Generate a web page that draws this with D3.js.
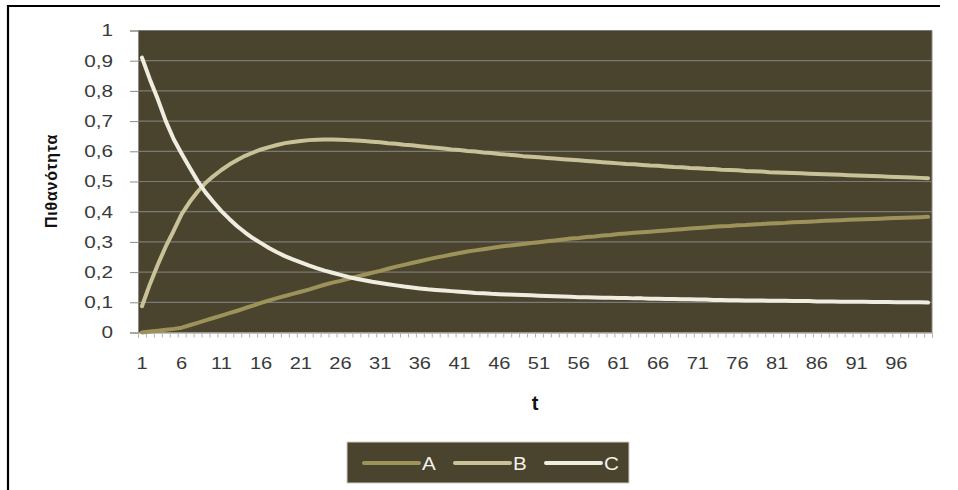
<!DOCTYPE html>
<html>
<head>
<meta charset="utf-8">
<script src="https://cdn.jsdelivr.net/npm/d3@7"></script>
<style>
  html, body { margin: 0; padding: 0; background: #ffffff; }
  svg { display: block; font-family: "Liberation Sans", Arial, sans-serif; }
</style>
</head>
<body>
<svg id="chart" width="958" height="490"></svg>
<script>
// Time steps 1..100
const steps = d3.range(1, 101);

// Probability of each state over time
const seriesA = [
  0.000, 0.003, 0.006, 0.009, 0.012, 0.016, 0.024, 0.032, 0.040, 0.048,
  0.056, 0.064, 0.072, 0.081, 0.089, 0.098, 0.106, 0.114, 0.121, 0.128,
  0.135, 0.142, 0.150, 0.158, 0.165, 0.171, 0.178, 0.185, 0.191, 0.198,
  0.204, 0.211, 0.218, 0.224, 0.230, 0.236, 0.242, 0.248, 0.253, 0.258,
  0.263, 0.268, 0.272, 0.276, 0.280, 0.284, 0.287, 0.290, 0.293, 0.296,
  0.299, 0.302, 0.305, 0.308, 0.311, 0.313, 0.316, 0.318, 0.321, 0.323,
  0.326, 0.328, 0.330, 0.332, 0.334, 0.336, 0.338, 0.340, 0.342, 0.344,
  0.346, 0.348, 0.350, 0.352, 0.353, 0.355, 0.356, 0.358, 0.359, 0.361,
  0.362, 0.363, 0.365, 0.366, 0.367, 0.368, 0.370, 0.371, 0.372, 0.373,
  0.374, 0.375, 0.376, 0.377, 0.378, 0.379, 0.380, 0.381, 0.382, 0.383
];
const seriesB = [
  0.087, 0.160, 0.225, 0.285, 0.337, 0.392, 0.432, 0.466, 0.495, 0.518,
  0.538, 0.556, 0.571, 0.585, 0.596, 0.606, 0.614, 0.621, 0.627, 0.631,
  0.634, 0.637, 0.638, 0.639, 0.639, 0.638, 0.637, 0.636, 0.634, 0.632,
  0.630, 0.627, 0.625, 0.622, 0.620, 0.617, 0.614, 0.612, 0.609, 0.606,
  0.604, 0.601, 0.599, 0.596, 0.594, 0.591, 0.589, 0.587, 0.584, 0.582,
  0.580, 0.578, 0.576, 0.574, 0.572, 0.570, 0.568, 0.566, 0.564, 0.562,
  0.560, 0.558, 0.557, 0.555, 0.553, 0.552, 0.550, 0.548, 0.547, 0.545,
  0.544, 0.542, 0.541, 0.539, 0.538, 0.537, 0.535, 0.534, 0.533, 0.531,
  0.530, 0.529, 0.528, 0.527, 0.526, 0.525, 0.524, 0.523, 0.522, 0.521,
  0.520, 0.519, 0.518, 0.517, 0.516, 0.515, 0.514, 0.513, 0.512, 0.511
];
const seriesC = [
  0.910, 0.838, 0.772, 0.700, 0.640, 0.592, 0.546, 0.502, 0.464, 0.432,
  0.402, 0.376, 0.352, 0.331, 0.312, 0.296, 0.280, 0.266, 0.253, 0.242,
  0.232, 0.222, 0.213, 0.205, 0.198, 0.191, 0.184, 0.178, 0.173, 0.168,
  0.164, 0.160, 0.156, 0.152, 0.149, 0.146, 0.143, 0.141, 0.139, 0.137,
  0.135, 0.133, 0.131, 0.130, 0.128, 0.127, 0.126, 0.125, 0.124, 0.123,
  0.122, 0.121, 0.120, 0.119, 0.118, 0.117, 0.117, 0.116, 0.115, 0.115,
  0.114, 0.114, 0.113, 0.113, 0.112, 0.112, 0.111, 0.111, 0.110, 0.110,
  0.109, 0.109, 0.108, 0.108, 0.107, 0.107, 0.106, 0.106, 0.106, 0.105,
  0.105, 0.105, 0.104, 0.104, 0.104, 0.103, 0.103, 0.103, 0.102, 0.102,
  0.102, 0.102, 0.101, 0.101, 0.101, 0.100, 0.100, 0.100, 0.100, 0.099
];

const seriesNames = ["A", "B", "C"];
const seriesColors = ["#9d9259", "#c9c197", "#efece0"];
const yTicks = [0, 0.1, 0.2, 0.3, 0.4, 0.5, 0.6, 0.7, 0.8, 0.9, 1];
const xTickLabels = steps.filter(t => (t - 1) % 5 === 0);

const svg = d3.select("#chart");
const labelFont = "'Liberation Sans', Arial, sans-serif";

// Widen text horizontally around its own anchor point
function widen(sel, sx) {
  sel.each(function () {
    const t = d3.select(this);
    const tx = +t.attr("x") || 0;
    const ty = +t.attr("y") || 0;
    t.attr("x", 0).attr("y", 0)
      .attr("transform", `translate(${tx},${ty}) scale(${sx},1)`);
  });
}

// Outer frame (top and left edges)
svg.append("line").attr("x1", 7).attr("x2", 940).attr("y1", 6).attr("y2", 6)
  .attr("stroke", "#000").attr("stroke-width", 2.2);
svg.append("line").attr("x1", 8).attr("x2", 8).attr("y1", 5).attr("y2", 490)
  .attr("stroke", "#000").attr("stroke-width", 2.2);

const plot = { left: 138, right: 932, top: 30.5, bottom: 332.5 };

const x = d3.scaleBand().domain(steps).range([plot.left, plot.right]).padding(0);
const xc = t => x(t) + x.bandwidth() / 2;
const y = d3.scaleLinear().domain([0, 1]).range([plot.bottom, plot.top]);

// Plot background
svg.append("rect")
  .attr("x", plot.left).attr("y", plot.top)
  .attr("width", plot.right - plot.left).attr("height", plot.bottom - plot.top)
  .attr("fill", "#4a432e");

// Horizontal gridlines
svg.append("g").selectAll("line").data(yTicks.filter(v => v > 0)).join("line")
  .attr("x1", plot.left).attr("x2", plot.right)
  .attr("y1", d => y(d)).attr("y2", d => y(d))
  .attr("stroke", "#7c7a74").attr("stroke-width", 1.2);

// Right edge of plot
svg.append("line").attr("x1", plot.right).attr("x2", plot.right)
  .attr("y1", plot.top).attr("y2", plot.bottom)
  .attr("stroke", "#8c8a84").attr("stroke-width", 1);

// Y axis
const yAxis = d3.axisLeft(y).tickValues(yTicks).tickSize(8).tickPadding(17)
  .tickFormat(d => d3.format(".1~f")(d).replace(".", ","));
const gy = svg.append("g").attr("transform", `translate(${plot.left},0)`).call(yAxis);
gy.select(".domain").attr("stroke", "#8c8a84");
gy.selectAll(".tick line").attr("stroke", "#8c8a84");
gy.selectAll(".tick text").attr("fill", "#3a3a3a")
  .style("font-size", "17px").style("font-family", labelFont)
  .call(widen, 1.22);

// X axis: tick marks on category boundaries, labels every 5 steps
const xb = d3.scaleLinear().domain([0, steps.length]).range([plot.left, plot.right]);
const gx = svg.append("g").attr("transform", `translate(0,${plot.bottom})`)
  .call(d3.axisBottom(xb).tickValues(d3.range(0, steps.length + 1)).tickSize(5).tickFormat(""));
gx.select(".domain").attr("stroke", "#8c8a84");
gx.selectAll(".tick line").attr("stroke", "#b4b2ac");

const gxl = svg.append("g").attr("transform", `translate(0,${plot.bottom})`)
  .call(d3.axisBottom(x).tickValues(xTickLabels).tickSize(0).tickPadding(24));
gxl.select(".domain").remove();
gxl.selectAll(".tick text").attr("fill", "#3a3a3a")
  .style("font-size", "17px").style("font-family", labelFont)
  .call(widen, 1.18);

// Axis titles
svg.append("text")
  .attr("transform", `translate(57,181) rotate(-90)`)
  .attr("text-anchor", "middle")
  .style("font-size", "16px").style("font-weight", "bold").style("letter-spacing", "0.8px")
  .attr("fill", "#111")
  .text("Πιθανότητα");
svg.append("text")
  .attr("x", 535).attr("y", 410)
  .attr("text-anchor", "middle")
  .style("font-size", "20px").style("font-weight", "bold").attr("fill", "#111")
  .text("t");

// Series lines
const allSeries = [seriesA, seriesB, seriesC];
const line = d3.line().x((d, i) => xc(steps[i])).y(d => y(d));
svg.append("g").selectAll("path").data(allSeries).join("path")
  .attr("d", d => line(d))
  .attr("fill", "none")
  .attr("stroke", (d, i) => seriesColors[i])
  .attr("stroke-width", 4)
  .attr("stroke-linejoin", "round")
  .attr("stroke-linecap", "round");

// Legend
const legend = svg.append("g");
legend.append("rect")
  .attr("x", 347).attr("y", 442).attr("width", 282).attr("height", 41)
  .attr("fill", "#4a432e").attr("stroke", "#cfcdc6").attr("stroke-width", 1);
const legendX = [364, 455, 546];
const items = legend.selectAll("g").data(seriesNames).join("g")
  .attr("transform", (d, i) => `translate(${legendX[i]},463)`);
items.append("line")
  .attr("x1", 0).attr("x2", 55).attr("y1", 0).attr("y2", 0)
  .attr("stroke", (d, i) => seriesColors[i]).attr("stroke-width", 4)
  .attr("stroke-linecap", "round");
items.append("text")
  .attr("x", 58).attr("y", 7)
  .attr("fill", "#f4f2ea").style("font-size", "17.5px")
  .call(widen, 1.18)
  .text(d => d);
</script>
</body>
</html>
